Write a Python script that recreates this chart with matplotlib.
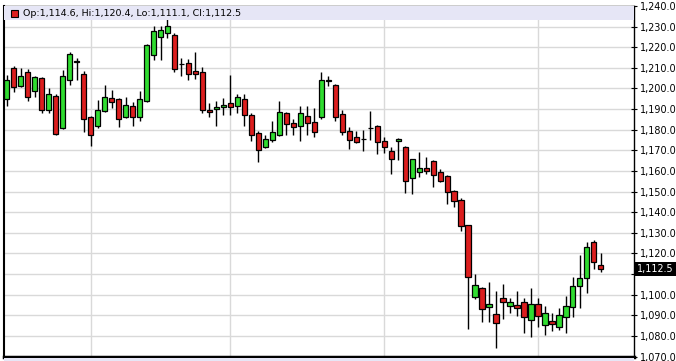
import matplotlib
matplotlib.use("Agg")
import matplotlib.pyplot as plt
from matplotlib.patches import Rectangle
import matplotlib.transforms as mtransforms

opens = [1195.1, 1209.9, 1201.0, 1208.1, 1198.9, 1205.2, 1189.7, 1196.5, 1180.8, 1204.1,
         1213.3, 1207.1, 1186.1, 1181.6, 1189.0, 1195.6, 1194.9, 1186.1, 1191.3, 1186.1,
         1193.9, 1216.0, 1225.2, 1226.9, 1226.1, 1212.0, 1212.3, 1208.6, 1208.0, 1189.7,
         1190.0, 1190.8, 1192.9, 1191.3, 1195.1, 1187.1, 1178.6, 1171.8, 1174.8, 1177.4,
         1188.1, 1183.2, 1181.9, 1186.7, 1183.8, 1186.4, 1204.0, 1201.8, 1187.7, 1179.6,
         1176.4, 1175.7, 1181.0, 1181.9, 1174.6, 1169.8, 1174.6, 1171.6, 1156.5, 1159.4,
         1161.4, 1164.9, 1159.4, 1157.6, 1150.3, 1146.0, 1133.8, 1098.7, 1103.1, 1094.2,
         1090.6, 1098.3, 1094.5, 1095.0, 1096.6, 1087.7, 1095.3, 1085.3, 1087.4, 1084.5,
         1089.0, 1094.2, 1104.2, 1108.3, 1125.4, 1114.6]
highs = [1206.5, 1210.7, 1209.9, 1209.4, 1206.2, 1205.8, 1200.2, 1197.3, 1209.1, 1217.5,
         1214.8, 1208.7, 1186.5, 1194.5, 1201.7, 1199.4, 1195.5, 1195.8, 1193.5, 1199.0,
         1221.5, 1230.1, 1230.1, 1233.7, 1226.9, 1214.8, 1214.3, 1217.5, 1210.2, 1192.9,
         1193.7, 1195.3, 1206.7, 1197.4, 1197.3, 1188.0, 1179.2, 1177.5, 1184.3, 1193.7,
         1188.7, 1185.1, 1191.3, 1191.3, 1190.3, 1207.8, 1206.2, 1202.3, 1189.7, 1181.1,
         1179.6, 1180.0, 1189.2, 1182.5, 1176.4, 1171.6, 1175.8, 1172.0, 1166.0, 1169.1,
         1166.7, 1165.5, 1160.9, 1158.2, 1150.8, 1146.8, 1134.0, 1110.0, 1103.5, 1106.3,
         1101.8, 1105.0, 1098.3, 1101.9, 1098.3, 1103.1, 1098.3, 1094.5, 1091.3, 1093.4,
         1099.4, 1108.7, 1119.3, 1125.7, 1126.6, 1120.4]
lows = [1191.3, 1198.5, 1200.5, 1193.7, 1196.1, 1188.1, 1188.1, 1177.3, 1180.5, 1201.7,
        1204.2, 1179.1, 1172.2, 1181.0, 1188.5, 1190.5, 1181.1, 1185.5, 1181.6, 1184.0,
        1193.5, 1213.6, 1213.6, 1224.5, 1207.8, 1206.2, 1204.2, 1204.6, 1188.1, 1186.1,
        1182.0, 1187.2, 1186.9, 1188.1, 1181.6, 1174.3, 1164.1, 1171.0, 1174.0, 1177.0,
        1177.5, 1177.5, 1174.3, 1177.5, 1176.4, 1185.1, 1201.3, 1184.0, 1177.5, 1170.6,
        1173.5, 1169.9, 1175.1, 1168.2, 1168.9, 1158.4, 1165.4, 1149.2, 1148.7, 1157.3,
        1158.6, 1152.1, 1154.4, 1144.0, 1142.7, 1131.1, 1083.3, 1097.8, 1086.9, 1086.9,
        1074.0, 1088.1, 1091.0, 1089.7, 1081.6, 1079.3, 1084.5, 1080.4, 1082.5, 1082.9,
        1081.3, 1089.0, 1093.4, 1101.0, 1112.3, 1111.1]
closes = [1204.2, 1200.7, 1206.0, 1196.1, 1205.8, 1189.5, 1197.3, 1177.7, 1206.0, 1216.8,
          1213.0, 1185.1, 1177.4, 1189.7, 1196.1, 1193.4, 1185.1, 1191.9, 1186.1, 1195.1,
          1221.2, 1227.7, 1228.2, 1230.1, 1209.4, 1211.7, 1207.1, 1207.1, 1189.7, 1188.5,
          1191.0, 1191.9, 1191.0, 1196.1, 1186.9, 1177.4, 1170.2, 1175.4, 1179.1, 1188.5,
          1182.7, 1181.1, 1188.1, 1183.2, 1178.8, 1204.2, 1203.8, 1186.1, 1178.8, 1175.1,
          1174.1, 1175.5, 1180.8, 1174.0, 1171.4, 1165.7, 1175.4, 1154.9, 1165.7, 1161.4,
          1160.2, 1157.8, 1155.3, 1149.7, 1145.6, 1133.5, 1108.4, 1104.7, 1092.9, 1095.5,
          1086.1, 1096.6, 1096.6, 1093.4, 1089.0, 1095.3, 1089.7, 1091.0, 1085.6, 1090.1,
          1094.5, 1104.2, 1108.0, 1123.3, 1115.7, 1112.5]
month_starts = [12, 32, 54, 76]
price_ticks = list(range(1070, 1241, 10))
hidden_tick = 1110
last_price = 1112.5
legend_text = "Op:1,114.6, Hi:1,120.4, Lo:1,111.1, Cl:1,112.5"

UP = '#30dc30'
DOWN = '#dc1e1e'
LAV = '#e6e6f6'
W, H = 676, 361

fig = plt.figure(figsize=(W / 100, H / 100), dpi=100)
fig.patch.set_facecolor('white')
ax = fig.add_axes([4 / W, 4.5 / H, 630 / W, 350.5 / H])
ax.set_facecolor('white')

n = len(opens)
xs = list(range(n))
ax.set_xlim(-0.39, 89.74)
ax.set_ylim(1070, 1240)

# gridlines
for p in price_ticks[1:-1]:
    ax.axhline(p, color='#d9d9d9', lw=1.0, zorder=0)
for m in month_starts:
    ax.axvline(m, color='#d9d9d9', lw=1.0, zorder=0)

# wicks
ax.vlines(xs, lows, highs, color='black', lw=1.0, zorder=2)
# bodies
bottoms = [min(o, c) for o, c in zip(opens, closes)]
heights = [abs(c - o) for o, c in zip(opens, closes)]
colors = [UP if c > o else DOWN for o, c in zip(opens, closes)]
ax.bar(xs, heights, bottom=bottoms, width=0.74, color=colors,
       edgecolor='black', linewidth=0.9, zorder=3)

# header band
ax.add_patch(Rectangle((0, 1 - 14 / 350.5), 1, 14 / 350.5, transform=ax.transAxes,
                       facecolor=LAV, edgecolor='none', zorder=4))

# spines
for s in ax.spines.values():
    s.set_color('black')
ax.spines['left'].set_linewidth(1.5)
ax.spines['top'].set_linewidth(1.0)
ax.spines['right'].set_linewidth(1.0)
ax.spines['bottom'].set_linewidth(2.5)

ax.set_xticks([])
ax.yaxis.tick_right()
ax.set_yticks(price_ticks)
ax.set_yticklabels(['' if p == hidden_tick else f"{p:,.1f}" for p in price_ticks])
ax.tick_params(axis='y', direction='inout', length=5, width=0.8, pad=1.5,
               labelsize=6.9, colors='black')

# last price box
trans = mtransforms.blended_transform_factory(ax.transAxes, ax.transData)
ax.text(1 + 3 / 630, last_price, f"{last_price:,.1f}", transform=trans,
        ha='left', va='center', color='white', fontsize=6.9,
        bbox=dict(boxstyle='square,pad=0.2', facecolor='black', edgecolor='none'),
        zorder=6)

# bottom band
fig.patches.append(Rectangle((4 / W, 0), 630 / W, 3.5 / H, transform=fig.transFigure,
                             facecolor=LAV, edgecolor='none', zorder=0))

# legend
fig.patches.append(Rectangle((11 / W, 1 - 17 / H), 7 / W, 7 / H, transform=fig.transFigure,
                             facecolor=DOWN, edgecolor='black', linewidth=0.8, zorder=5))
fig.text(22.5 / W, 1 - 13.5 / H, legend_text, ha='left', va='center',
         fontsize=6.8, color='black', zorder=6)

fig.savefig('out.png', dpi=100)
